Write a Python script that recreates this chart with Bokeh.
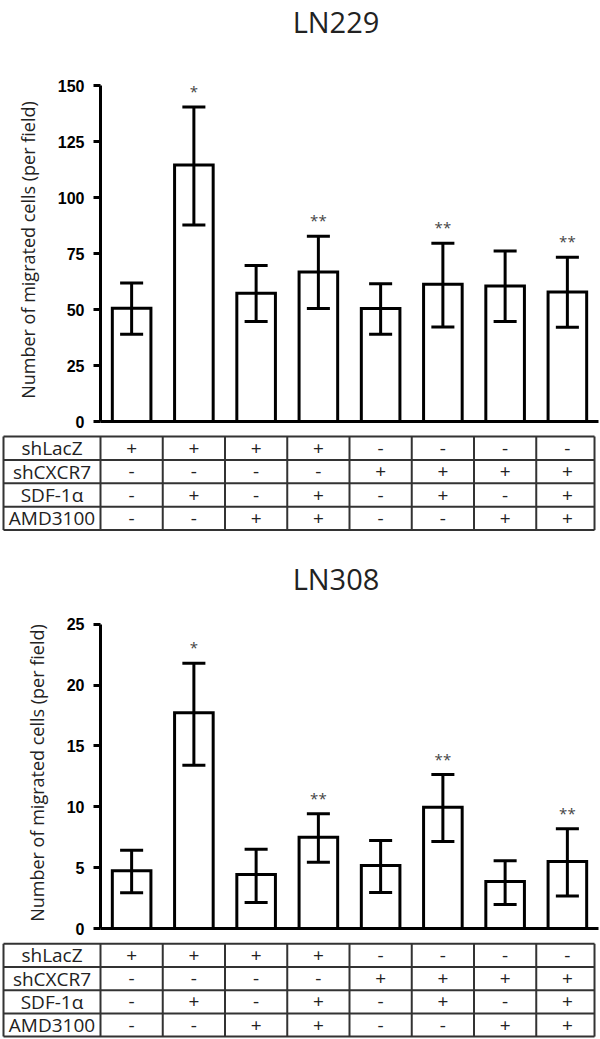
from bokeh.plotting import figure
from bokeh.layouts import column
from bokeh.models import Range1d, FixedTicker
from bokeh.core.properties import value
from bokeh.embed import file_html
from bokeh.resources import INLINE

# ---------------- data ----------------
groups = [0, 1, 2, 3, 4, 5, 6, 7]
conditions = ["shLacZ", "shCXCR7", "SDF-1α", "AMD3100"]
table_marks = [
    ["+", "+", "+", "+", "-", "-", "-", "-"],
    ["-", "-", "-", "-", "+", "+", "+", "+"],
    ["-", "+", "-", "+", "-", "+", "-", "+"],
    ["-", "-", "+", "+", "-", "-", "+", "+"],
]
y_label = "Number of migrated cells (per field)"

ln229_mean = [50.6, 114.5, 57.3, 66.7, 50.5, 61.3, 60.5, 57.8]
ln229_upper = [61.8, 140.4, 69.6, 82.7, 61.5, 79.6, 76.1, 73.3]
ln229_lower = [39.0, 87.7, 44.6, 50.5, 38.9, 42.2, 44.6, 42.1]
ln229_sig = ["", "*", "", "**", "", "**", "", "**"]
ln229_ticks = [0, 25, 50, 75, 100, 125, 150]

ln308_mean = [4.75, 17.72, 4.44, 7.5, 5.17, 9.97, 3.86, 5.5]
ln308_upper = [6.43, 21.8, 6.52, 9.42, 7.23, 12.65, 5.56, 8.19]
ln308_lower = [2.93, 13.42, 2.14, 5.45, 2.96, 7.15, 1.97, 2.68]
ln308_sig = ["", "*", "", "**", "", "**", "", "**"]
ln308_ticks = [0, 5, 10, 15, 20, 25]

# ---------------- layout constants ----------------
W = 600
FRAME_L = 100
FRAME_R_PAD = 2
PX = (W - FRAME_L - FRAME_R_PAD) / 8.0
X_LEFT = -0.5 - FRAME_L / PX
X_RIGHT = 7.5 + FRAME_R_PAD / PX


def title_fig(text, height, center_from_top):
    p = figure(width=W, height=height, x_range=Range1d(0, W), y_range=Range1d(0, height),
               toolbar_location=None, output_backend="svg", min_border=0, title=None,
               x_axis_location=None, y_axis_location=None, frame_align=False)
    p.grid.visible = False
    p.outline_line_color = None
    p.text(x=[335.5], y=[height - center_from_top], text=[text], text_font=value("Open Sans"),
           text_font_size="29px", text_align="center", text_baseline="middle",
           text_color="#222222")
    return p


def bar_fig(mean, upper, lower, sig, ticks, height, border_top, border_bottom, px_per_unit):
    frame_h = height - border_top - border_bottom
    y_end = frame_h / px_per_unit
    p = figure(width=W, height=height, x_range=Range1d(-0.5, 7.5), y_range=Range1d(0, y_end),
               toolbar_location=None, output_backend="svg", title=None,
               min_border_left=FRAME_L, min_border_right=FRAME_R_PAD,
               min_border_top=border_top, min_border_bottom=border_bottom,
               frame_align=False)
    p.grid.visible = False
    p.outline_line_color = None

    ya = p.yaxis[0]
    ya.ticker = FixedTicker(ticks=ticks)
    ya.bounds = (ticks[0], ticks[-1])
    ya.axis_line_width = 3
    ya.axis_line_color = "black"
    ya.major_tick_line_width = 3
    ya.major_tick_line_color = "black"
    ya.major_tick_out = 7
    ya.major_tick_in = 0
    ya.minor_tick_out = 0
    ya.minor_tick_in = 0
    ya.major_label_text_font = "Liberation Sans"
    ya.major_label_text_font_style = "bold"
    ya.major_label_text_font_size = "16px"
    ya.major_label_text_color = "black"
    ya.major_label_standoff = 9
    ya.axis_label = y_label
    ya.axis_label_text_font = "Open Sans"
    ya.axis_label_text_font_style = "normal"
    ya.axis_label_text_font_size = "18px"
    ya.axis_label_text_color = "#222222"
    ya.axis_label_standoff = 15

    xa = p.xaxis[0]
    xa.ticker = FixedTicker(ticks=[])
    xa.axis_line_width = 3
    xa.axis_line_color = "black"
    xa.major_tick_out = 0
    xa.major_tick_in = 0
    xa.minor_tick_out = 0
    xa.minor_tick_in = 0
    xa.major_label_standoff = 0

    p.vbar(x=groups, top=mean, bottom=0, width=0.62, fill_color="white",
           line_color="black", line_width=3, line_join="miter")
    p.segment(x0=groups, y0=lower, x1=groups, y1=upper, line_color="black", line_width=3)
    cap = 0.185
    for yy in (upper, lower):
        p.segment(x0=[g - cap for g in groups], y0=yy, x1=[g + cap for g in groups], y1=yy,
                  line_color="black", line_width=3)
    p.text(x=groups, y=upper, text=sig, y_offset=-16, text_align="center",
           text_baseline="middle", text_font=value("Open Sans"), text_font_size="15px",
           text_color="#444444")
    return p


def table_fig(height, top, row_h):
    p = figure(width=W, height=height, x_range=Range1d(X_LEFT, X_RIGHT), y_range=Range1d(height, 0),
               toolbar_location=None, output_backend="svg", min_border=0, title=None,
               x_axis_location=None, y_axis_location=None, frame_align=False)
    p.grid.visible = False
    p.outline_line_color = None
    left = X_LEFT + 3.0 / PX
    right = 7.436
    n = len(conditions)
    ys = [top + k * row_h for k in range(n + 1)]
    p.segment(x0=[left] * len(ys), y0=ys, x1=[right] * len(ys), y1=ys,
              line_color="#333333", line_width=2)
    xs = [left] + [g - 0.5 for g in groups] + [right]
    p.segment(x0=xs, y0=[ys[0]] * len(xs), x1=xs, y1=[ys[-1]] * len(xs),
              line_color="#333333", line_width=2)
    row_c = [top + (r + 0.5) * row_h for r in range(n)]
    p.text(x=[(left - 0.5) / 2] * n, y=row_c, text=conditions, text_align="center",
           text_baseline="middle", text_font=value("Open Sans"), text_font_size="19px",
           text_color="#222222")
    cx, cy, ct = [], [], []
    for r in range(n):
        for g in groups:
            cx.append(g)
            cy.append(row_c[r])
            ct.append(table_marks[r][g])
    p.text(x=cx, y=cy, text=ct, text_align="center", text_baseline="middle",
           text_font=value("Open Sans"), text_font_size="19px", text_color="#222222")
    return p


t1 = title_fig("LN229", 42, 21)
b1 = bar_fig(ln229_mean, ln229_upper, ln229_lower, ln229_sig, ln229_ticks,
             387, 36, 8, 2.24)
tb1 = table_fig(104, 7, 23.4)
t2 = title_fig("LN308", 67, 45)
b2 = bar_fig(ln308_mean, ln308_upper, ln308_lower, ln308_sig, ln308_ticks,
             336, 17, 8, 12.17)
tb2 = table_fig(103, 7.3, 23.2)

layout = column(t1, b1, tb1, t2, b2, tb2, spacing=0)
open("out.html", "w").write(file_html(layout, INLINE))
